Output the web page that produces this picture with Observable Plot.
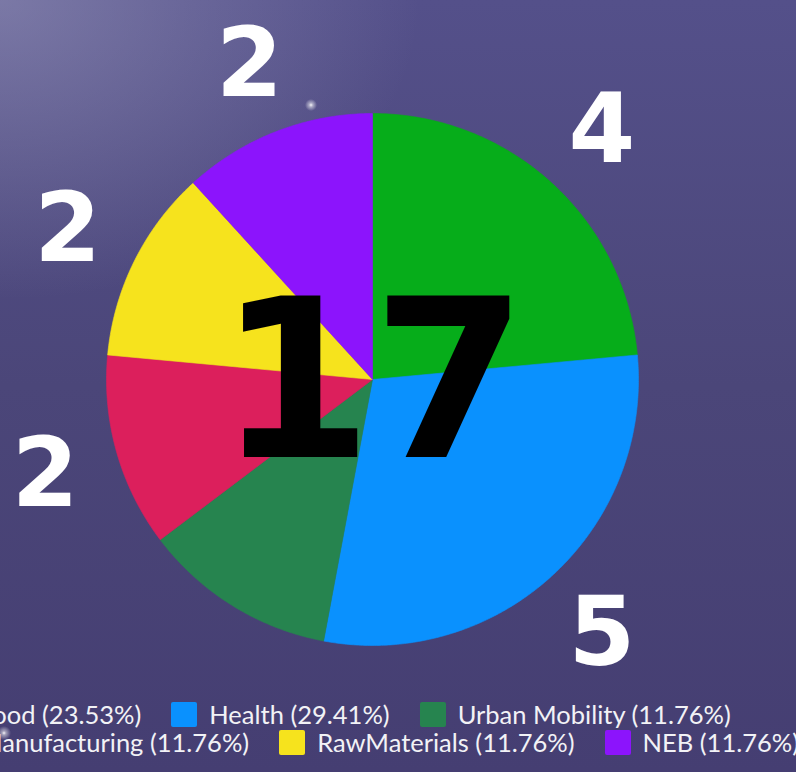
<!DOCTYPE html>
<html>
<head>
<meta charset="utf-8">
<script src="https://cdn.jsdelivr.net/npm/d3@7"></script>
<script src="https://cdn.jsdelivr.net/npm/@observablehq/plot@0.6"></script>
<style>
  html, body { margin: 0; padding: 0; }
  body {
    width: 796px; height: 772px; overflow: hidden; position: relative;
    background:
      radial-gradient(circle at 311px 105px, rgba(255,255,255,0.95) 0px, rgba(255,255,255,0.5) 2px, rgba(255,255,255,0) 6px),
      radial-gradient(circle at 4px 733px, rgba(255,255,255,0.95) 0px, rgba(255,255,255,0.5) 2px, rgba(255,255,255,0) 7px),
      radial-gradient(ellipse 420px 300px at 0px 0px, rgba(170,170,200,0.45), rgba(170,170,200,0) 100%),
      linear-gradient(180deg, #54508a 0%, #4b4679 50%, #453e72 100%);
    font-family: Lato, "Open Sans", sans-serif;
  }
  #chart { position: absolute; left: 0; top: 0; }
  #legend {
    position: absolute; left: -59px; top: 700px; width: 880px;
    display: flex; flex-wrap: wrap; column-gap: 30px; row-gap: 0;
    color: #f2f2f6; font-size: 25.5px; line-height: 28px;
  }
  .item { display: flex; align-items: center; gap: 12px; white-space: nowrap; height: 28px; }
  .sw { width: 26px; height: 25px; border-radius: 2px; flex: none; }
</style>
</head>
<body>
<div id="chart"></div>
<div id="legend"></div>
<script>
const categories = ["Food", "Health", "Urban Mobility", "Manufacturing", "RawMaterials", "NEB"];
const values = [4, 5, 2, 2, 2, 2];
const colors = ["#06ad1a", "#0a91fe", "#26844f", "#dc1f5c", "#f6e31d", "#8c14fc"];
const hiddenLabels = ["Urban Mobility"];

const total = d3.sum(values);
const arcs = d3.pie().sort(null)(values);

// slice outlines (unit circle geometry)
const sliceRows = [];
arcs.forEach((a, i) => {
  const cat = categories[i];
  sliceRows.push({cat, x: 0, y: 0});
  const n = Math.max(2, Math.ceil((a.endAngle - a.startAngle) / (Math.PI / 360)));
  for (let k = 0; k <= n; k++) {
    const t = a.startAngle + (a.endAngle - a.startAngle) * k / n;
    sliceRows.push({cat, x: Math.sin(t), y: Math.cos(t)});
  }
  sliceRows.push({cat, x: 0, y: 0});
});

const labelR = 1.28;
const labelRows = arcs.map((a, i) => {
  const m = (a.startAngle + a.endAngle) / 2;
  return {cat: categories[i], value: values[i], x: labelR * Math.sin(m), y: labelR * Math.cos(m)};
}).filter(d => !hiddenLabels.includes(d.cat));

const W = 796, H = 690, R = 266, CX = 372, CY = 379;

const chart = Plot.plot({
  width: W, height: H,
  margin: 0, marginTop: 0, marginRight: 0, marginBottom: 0, marginLeft: 0,
  style: {background: "transparent", overflow: "visible"},
  x: {domain: [-CX / R, (W - CX) / R], range: [0, W], axis: null},
  y: {domain: [-(H - CY) / R, CY / R], range: [H, 0], axis: null},
  color: {domain: categories, range: colors},
  marks: [
    Plot.line(sliceRows, {x: "x", y: "y", z: "cat", fill: "cat", stroke: "cat", strokeWidth: 0.6, curve: "linear"}),
    Plot.text(labelRows, {x: "x", y: "y", text: d => String(d.value), fill: "white", fontSize: 96,
      fontWeight: "bold", fontFamily: "DejaVu Sans", textAnchor: "middle", dy: 3}),
    Plot.text([total], {x: () => 0, y: () => 0, text: d => String(d), fill: "black", fontSize: 222,
      fontWeight: "bold", fontFamily: "DejaVu Sans", textAnchor: "middle", dy: 6})
  ]
});
document.getElementById("chart").appendChild(chart);

const legend = document.getElementById("legend");
categories.forEach((c, i) => {
  const pct = (values[i] / total * 100).toFixed(2);
  const item = document.createElement("div");
  item.className = "item";
  item.innerHTML = `<span class="sw" style="background:${colors[i]}"></span><span>${c} (${pct}%)</span>`;
  legend.appendChild(item);
});
</script>
</body>
</html>
